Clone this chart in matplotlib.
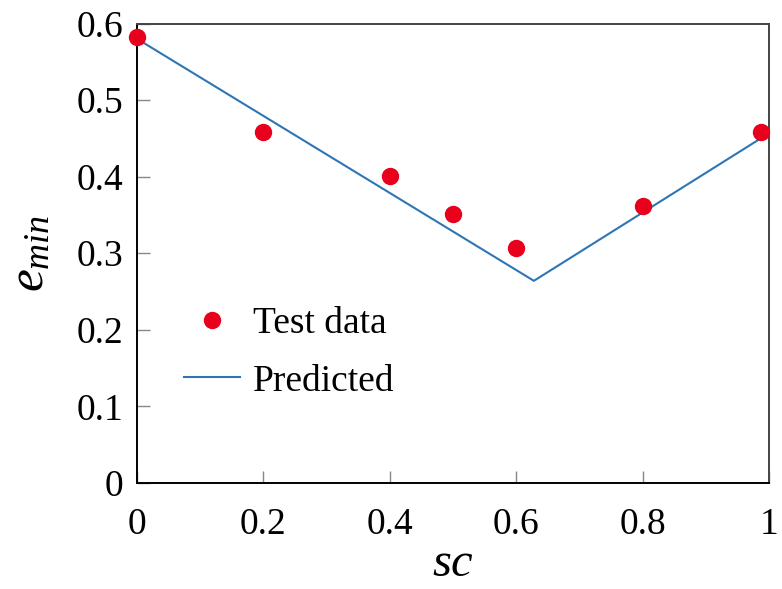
import numpy as np
import matplotlib
matplotlib.use("Agg")
import matplotlib.pyplot as plt

plt.rcParams['font.family'] = ['Liberation Serif', 'DejaVu Serif']
plt.rcParams['mathtext.fontset'] = 'custom'
plt.rcParams['mathtext.rm'] = 'Liberation Serif'
plt.rcParams['mathtext.it'] = 'Liberation Serif:italic'

# test data
sc_test = [0.0, 0.2, 0.4, 0.5, 0.6, 0.8, 0.987]
e_test = [0.583, 0.458, 0.401, 0.351, 0.307, 0.362, 0.458]

# predicted (piecewise linear)
sc_pred = [0.0, 0.628, 0.987]
e_pred = [0.580, 0.264, 0.450]

fig = plt.figure(figsize=(7.82, 5.89), dpi=100)
ax = fig.add_axes([137/782, 1 - 483/589, 632/782, 459.5/589])

ax.plot(sc_test, e_test, 'o', color='#e8001c', markersize=11.5,
        label='Test data', clip_on=False, zorder=3)
ax.plot(sc_pred, e_pred, '-', color='#2e75b6', lw=1.5, label='Predicted')

ax.set_xlim(0, 1)
ax.set_ylim(0, 0.6)
ax.set_xticks([0, 0.2, 0.4, 0.6, 0.8, 1])
ax.set_xticklabels(['0', '0.2', '0.4', '0.6', '0.8', '1'])
ax.set_yticks([0, 0.1, 0.2, 0.3, 0.4, 0.5, 0.6])
ax.set_yticklabels(['0', '0.1', '0.2', '0.3', '0.4', '0.5', '0.6'])
ax.tick_params(direction='in', length=9, width=1, color='#888888',
               labelsize=27, top=False, right=False)
ax.tick_params(axis='x', pad=18)
ax.tick_params(axis='y', pad=10)
for s in ['top', 'right']:
    ax.spines[s].set_color('#444444')
for s in ax.spines.values():
    s.set_linewidth(1.4)

ax.set_xlabel('$sc$', fontsize=35, labelpad=0)
ax.set_ylabel('$e_{min}$', fontsize=37, labelpad=16)

ax.legend(loc='lower left', bbox_to_anchor=(0.05, 0.151), frameon=False,
          fontsize=27, handlelength=1.5, handletextpad=0.35, labelspacing=0.61,
          numpoints=1, borderaxespad=0)

fig.savefig('out.png', dpi=100)
